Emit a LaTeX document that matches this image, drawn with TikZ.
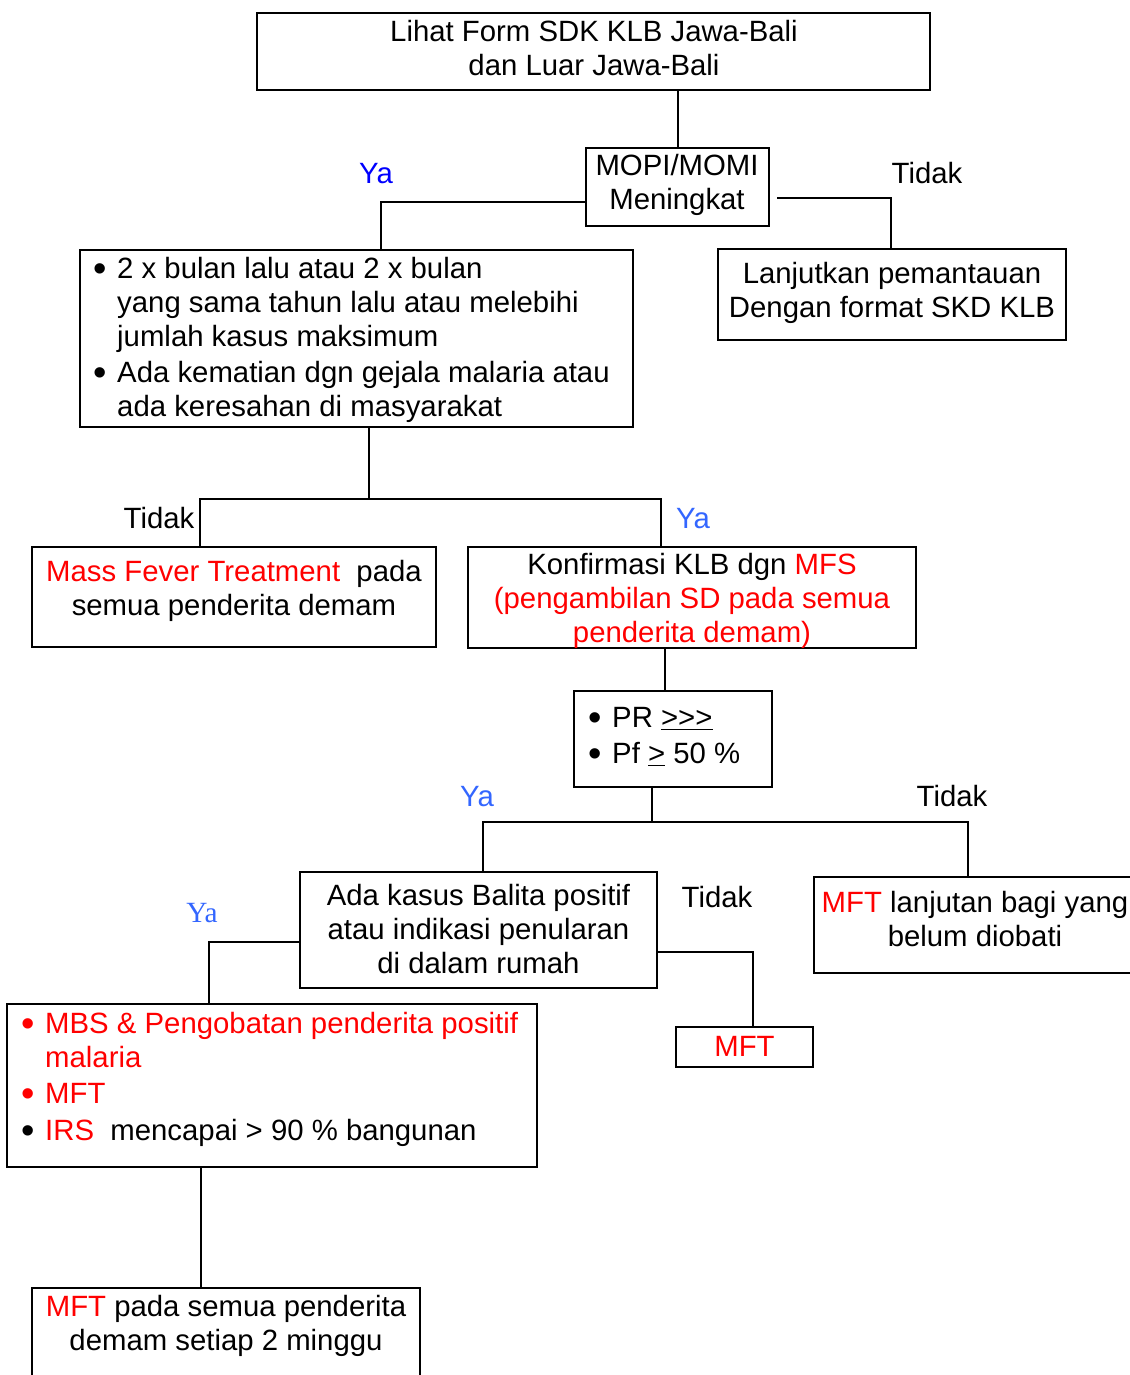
\documentclass[tikz,border=0pt]{standalone}
\usepackage{fontspec}
\setmainfont{Liberation Sans}
\newfontfamily\serifya{Liberation Serif}
\usetikzlibrary{calc}
\definecolor{myred}{RGB}{255,0,0}
\definecolor{myblue}{RGB}{0,0,255}
\definecolor{lblue}{RGB}{51,102,255}
\newcommand\mybox[5]{\node[box, minimum width={(#4-#2)*0.75pt}, minimum height={(#5-#3)*0.75pt}] (#1) at ({(#2+#4)/2},{(#3+#5)/2}) {};}
\newcommand\bigdot{\raisebox{-0.11em}{\scalebox{1.3}{•}}}
\newcommand\bul{\makebox[17pt][l]{\hspace*{-0.6pt}\bigdot}}
\newcommand\rbul{\makebox[17pt][l]{\hspace*{-0.6pt}\textcolor{myred}{\bigdot}}}
\newcommand\ind{\hspace*{17pt}}
\newcommand\red[1]{\textcolor{myred}{#1}}
\begin{document}
\begin{tikzpicture}[x=0.75pt,y=-0.75pt,
  box/.style={draw=black, line width=1.5pt, inner sep=0pt},
  txt/.style={inner sep=0pt, font=\fontsize{22pt}{25.5pt}\selectfont, anchor=base},
  conn/.style={line width=1.5pt},
  ctr/.style={txt, align=center},
  lft/.style={txt, align=left, anchor=base west},
]
\clip (0,0) rectangle (1130,1375);
% boxes
\mybox{top}{257}{13}{930}{90}
\mybox{mopi}{586}{148}{769}{226}
\mybox{crit}{80}{250}{633}{427}
\mybox{lanj}{718}{249}{1066}{340}
\mybox{mass}{32}{547}{436}{647}
\mybox{konf}{468}{547}{916}{648}
\mybox{pr}{574}{691}{772}{787}
\mybox{ada}{300}{872}{657}{988}
\mybox{mftl}{814}{877}{1140}{973}
\mybox{mbs}{7}{1004}{537}{1167}
\mybox{mft}{676}{1027}{813}{1067}
\mybox{bot}{32}{1288}{420}{1390}
% texts (base anchor = baseline of the last line)
\node[ctr] (top-t) at (594,75) {Lihat Form SDK KLB Jawa-Bali\\dan Luar Jawa-Bali};
\node[ctr] (mopi-t) at (677,209) {MOPI/MOMI\\Meningkat};
\node[lft] (crit-t) at (94.3,416) {\bul 2 x bulan lalu atau 2 x bulan\\\ind yang sama tahun lalu atau melebihi\\\ind jumlah kasus maksimum\\[1.5pt]\bul Ada kematian dgn gejala malaria atau\\\ind ada keresahan di masyarakat};
\node[ctr] (lanj-t) at (892,317) {Lanjutkan pemantauan\\Dengan format SKD KLB};
\node[ctr] (mass-t) at (234,615) {\red{Mass Fever Treatment}~ pada\\semua penderita demam};
\node[ctr] (konf-t) at (692,642) {Konfirmasi KLB dgn \red{MFS}\\\red{(pengambilan SD pada semua}\\\red{penderita demam)}};
\node[lft] (pr-t) at (589.3,763) {\bul PR \underline{>{}>{}>}\\[1.5pt]\bul Pf \underline{>} 50 \%};
\node[ctr] (ada-t) at (478.5,973) {Ada kasus Balita positif\\atau indikasi penularan\\di dalam rumah};
\node[ctr] (mftl-t) at (975,946) {\red{MFT} lanjutan bagi yang\\belum diobati};
\node[lft] (mbs-t) at (22.3,1140) {\rbul\red{MBS \& Pengobatan penderita positif}\\\ind\red{malaria}\\[1.5pt]\rbul\red{MFT}\\[2.25pt]\bul\red{IRS}~ mencapai > 90 \% bangunan};
\node[ctr] (mft-t) at (744.5,1056) {\red{MFT}};
\node[ctr] (bot-t) at (226,1350) {\red{MFT} pada semua penderita\\demam setiap 2 minggu};
% labels
\node[txt, text=myblue] (l1) at (376,183) {Ya};
\node[txt] (l2) at (927,183) {Tidak};
\node[txt] (l3) at (159,528) {Tidak};
\node[txt, text=lblue] (l4) at (693,528) {Ya};
\node[txt, text=lblue] (l5) at (477,806) {Ya};
\node[txt] (l6) at (952,806) {Tidak};
\node[txt, text=lblue, font=\fontsize{22pt}{25.5pt}\serifya] (l7) at (202,922) {Ya};
\node[txt] (l8) at (717,907) {Tidak};
% connectors
\coordinate (split1) at (369,499);
\coordinate (split2) at (652,822);
\coordinate (mopiR) at ($(mopi.east)+(7,11)$);
\draw[conn] (top.south -| mopi.north) -- (mopi.north);
\draw[conn] (mopi.west |- 0,202) -| (crit.north -| 381,0);
\draw[conn] (mopiR) -| (lanj.north -| 891,0);
\draw[conn] (crit.south -| split1) -- (split1);
\draw[conn] (mass.north -| 200,0) |- (split1) -| (konf.north -| 661,0);
\draw[conn] (konf.south -| 665,0) -- (pr.north -| 665,0);
\draw[conn] (pr.south -| split2) -- (split2);
\draw[conn] (ada.north -| 483,0) |- (split2) -| (mftl.north -| 968,0);
\draw[conn] (ada.west |- 0,942) -| (mbs.north -| 209,0);
\draw[conn] (ada.east |- 0,952) -| (mft.north -| 753,0);
\draw[conn] (mbs.south -| 201,0) -- (bot.north -| 201,0);
\end{tikzpicture}
\end{document}
